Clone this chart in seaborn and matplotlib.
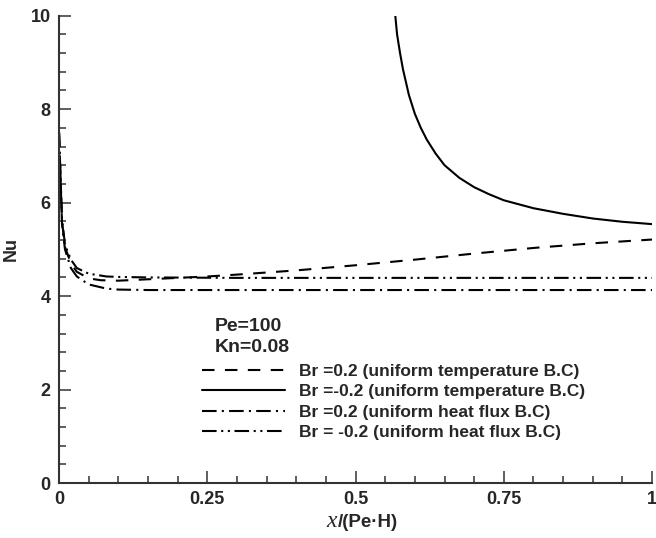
import numpy as np
import pandas as pd
import matplotlib
matplotlib.use("Agg")
import matplotlib.pyplot as plt
import seaborn as sns

# ---- data ----
cases = [
    "Br =0.2 (uniform temperature B.C)",
    "Br =-0.2 (uniform temperature B.C)",
    "Br =0.2 (uniform heat flux B.C)",
    "Br = -0.2 (uniform heat flux B.C)",
]

x_ut_pos = [0.0, 0.005, 0.01, 0.02, 0.03, 0.05, 0.07, 0.1, 0.15, 0.2, 0.25, 0.3, 0.4, 0.5, 0.6, 0.7, 0.8, 0.9, 1.0]
nu_ut_pos = [7.5, 5.6, 5.05, 4.7, 4.52, 4.38, 4.34, 4.33, 4.36, 4.39, 4.42, 4.46, 4.55, 4.66, 4.78, 4.91, 5.03, 5.13, 5.21]

x_ut_neg = [0.567, 0.57, 0.575, 0.58, 0.59, 0.6, 0.61, 0.62, 0.635, 0.65, 0.675, 0.7, 0.725, 0.75, 0.8, 0.85, 0.9, 0.95, 1.0]
nu_ut_neg = [10.0, 9.6, 9.2, 8.85, 8.3, 7.9, 7.6, 7.35, 7.05, 6.8, 6.53, 6.33, 6.18, 6.05, 5.88, 5.76, 5.66, 5.59, 5.54]

x_hf_pos = [0.0, 0.005, 0.01, 0.02, 0.03, 0.05, 0.08, 0.1, 0.15, 0.3, 0.5, 0.75, 1.0]
nu_hf_pos = [7.5, 5.55, 5.0, 4.6, 4.42, 4.25, 4.16, 4.14, 4.13, 4.13, 4.13, 4.13, 4.13]

x_hf_neg = [0.0, 0.005, 0.01, 0.02, 0.03, 0.05, 0.08, 0.1, 0.15, 0.3, 0.5, 0.75, 1.0]
nu_hf_neg = [7.5, 5.65, 5.1, 4.78, 4.6, 4.48, 4.42, 4.41, 4.40, 4.39, 4.39, 4.39, 4.39]

xticks = [0, 0.25, 0.5, 0.75, 1]
xtick_labels = ["0", "0.25", "0.5", "0.75", "1"]
yticks = [0, 2, 4, 6, 8, 10]
ytick_labels = ["0", "2", "4", "6", "8", "10"]

frames = []
for c, xs, ys in zip(cases, [x_ut_pos, x_ut_neg, x_hf_pos, x_hf_neg],
                     [nu_ut_pos, nu_ut_neg, nu_hf_pos, nu_hf_neg]):
    frames.append(pd.DataFrame({"x": xs, "Nu": ys, "case": c}))
df = pd.concat(frames, ignore_index=True)

# ---- style ----
sns.set_theme(style="ticks")
plt.rcParams["font.family"] = ["Liberation Sans", "DejaVu Sans"]
plt.rcParams["font.weight"] = "bold"

fig = plt.figure(figsize=(6.56, 5.38), dpi=100)
ax = fig.add_axes([0.090, 0.102, 0.904, 0.869])

dashes = {
    cases[0]: (6.0, 5.0),
    cases[1]: "",
    cases[2]: (7, 2.5, 1, 2.5),
    cases[3]: (7, 2.2, 1, 2.2, 1, 2.2),
}
sns.lineplot(data=df, x="x", y="Nu", style="case", style_order=cases,
             dashes=dashes, color="black", linewidth=1.5, estimator=None,
             sort=False, ax=ax, legend=False)

ax.set_xlim(0, 1)
ax.set_ylim(0, 10)
ax.set_xticks(xticks)
ax.set_xticklabels(xtick_labels)
ax.set_yticks(yticks)
ax.set_yticklabels(ytick_labels)
ax.set_xticks(np.arange(0.05, 1.0, 0.05), minor=True)
ax.set_yticks(np.arange(0.4, 10.0, 0.4), minor=True)
ax.tick_params(axis="both", which="major", direction="in", length=8.5, width=1.1,
               labelsize=13, pad=6, color="#333333")
ax.tick_params(axis="both", which="minor", direction="in", length=5, width=1.1,
               color="#333333")
for lab in ax.get_xticklabels() + ax.get_yticklabels():
    lab.set_fontweight("bold")

sns.despine(ax=ax)
for s in ["left", "bottom"]:
    ax.spines[s].set_linewidth(1.5)
    ax.spines[s].set_color("#333333")

ax.set_ylabel("Nu", fontsize=13, fontweight="bold")
ax.yaxis.set_label_coords(-0.066, 0.5)
ax.set_xlabel("")

# x-axis title: italic serif "x" followed by bold sans "/(Pe·H)"
fig.text(337 / 656, 11 / 538, "x", fontsize=17, family=["Liberation Serif", "DejaVu Serif"],
         style="italic", fontweight="normal", ha="right", va="baseline")
fig.text(338 / 656, 11 / 538, "/(Pe·H)", fontsize=13.5, fontweight="bold",
         ha="left", va="baseline")

ax.text(0.263, 3.34, "Pe=100", fontsize=14, fontweight="bold", va="center", ha="left")
ax.text(0.263, 2.90, "Kn=0.08", fontsize=14, fontweight="bold", va="center", ha="left")

handles = ax.lines[:4]
leg = ax.legend(handles, cases, loc="upper left", bbox_to_anchor=(0.241, 0.255),
                frameon=False, fontsize=12.5, handlelength=4.8, handletextpad=0.8,
                labelspacing=0.3, borderpad=0, borderaxespad=0)
for t in leg.get_texts():
    t.set_fontweight("bold")

fig.savefig("out.png", dpi=100)
